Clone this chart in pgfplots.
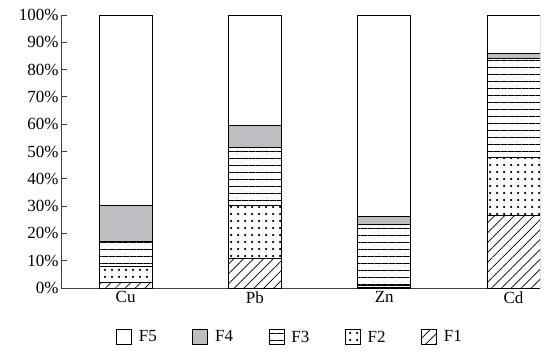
\documentclass[border=0pt]{standalone}
\usepackage{pgfplots}
\pgfplotsset{compat=1.18}
\usetikzlibrary{patterns.meta}
\usepackage{fontspec}
\setmainfont{Liberation Serif}
\definecolor{fgray}{RGB}{190,190,194}
\begin{document}
\begin{tikzpicture}
\useasboundingbox (0,0) rectangle (558pt,354pt);
\begin{axis}[
  at={(61pt,66pt)}, anchor=south west,
  scale only axis, width=479pt, height=273pt,
  ybar stacked, bar width=53pt,
  xmin=-0.5, xmax=3.205, ymin=0, ymax=100,
  axis lines=left,
  axis line style={-, black!75, line width=0.9pt},
  xtick={0,1,2,3}, xticklabels={Cu,Pb,Zn,Cd},
  x tick style={draw=none},
  ytick={0,10,...,100},
  yticklabel={\pgfmathprintnumber{\tick}\%},
  /pgf/number format/assume math mode=true,
  tick align=inside, major tick length=5.5pt,
  y tick style={black!75, line width=0.9pt},
  yticklabel style={xshift=1pt},
  ticklabel style={font=\fontsize{17}{17}\selectfont},
  reverse legend,
  legend columns=5,
  legend style={draw=none, at={(0.478,-0.18)}, anchor=center,
    font=\fontsize{17}{17}\selectfont,
    /tikz/every odd column/.append style={column sep=5pt},
    /tikz/every even column/.append style={column sep=33.5pt}},
  legend image code/.code={\draw[#1, line width=0.8pt] (0pt,-7.5pt) rectangle (15pt,7.5pt);},
]
\addplot[draw=black, line width=0.8pt, pattern={Lines[angle=45, distance=7pt, line width=0.7pt]}]
  coordinates {(0,2) (1,11) (2,0.4) (3,26.6)};
\addplot[draw=black, line width=0.8pt, pattern={Dots[distance=7pt, radius=1.25pt]}]
  coordinates {(0,6) (1,19.3) (2,0.7) (3,21.4)};
\addplot[draw=black, line width=0.8pt, pattern={Lines[angle=0, distance=7pt, line width=0.9pt]}]
  coordinates {(0,9) (1,21.2) (2,22.3) (3,36)};
\addplot[draw=black, line width=0.8pt, fill=fgray]
  coordinates {(0,13.3) (1,8) (2,2.9) (3,2)};
\addplot[draw=black, line width=0.8pt, fill=white]
  coordinates {(0,69.7) (1,40.5) (2,73.7) (3,14)};
\legend{F1,F2,F3,F4,F5}
\end{axis}
\end{tikzpicture}
\end{document}
